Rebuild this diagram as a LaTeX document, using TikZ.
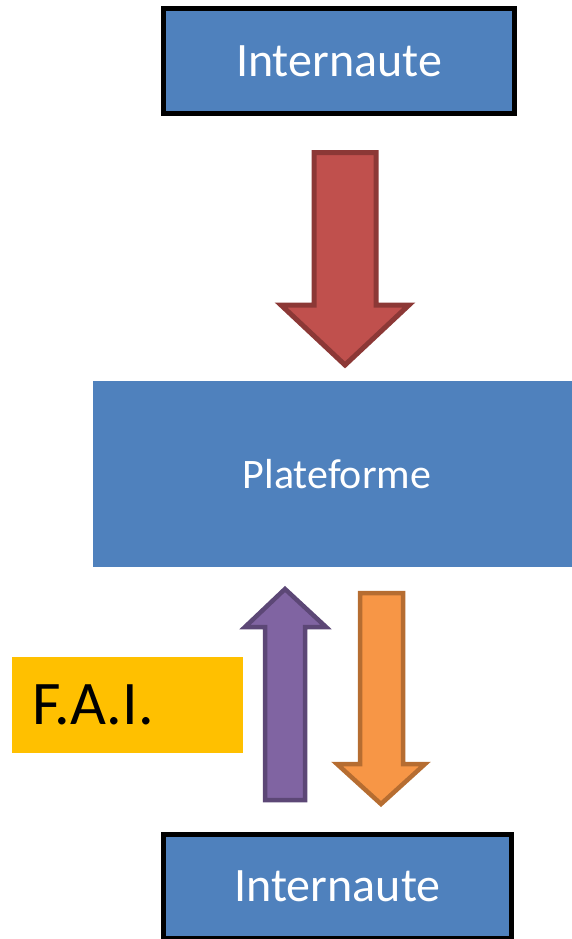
\documentclass[tikz,border=0pt]{standalone}
\usepackage{fontspec}
\setmainfont{Carlito}
\usetikzlibrary{positioning}
\definecolor{boxblue}{HTML}{4F81BD}
\definecolor{redfill}{HTML}{C0504D}
\definecolor{redline}{HTML}{8C3836}
\definecolor{purfill}{HTML}{8064A2}
\definecolor{purline}{HTML}{5C4776}
\definecolor{orgfill}{HTML}{F79646}
\definecolor{orgline}{HTML}{B66D31}
\definecolor{faiyellow}{HTML}{FFC000}

\begin{document}
\begin{tikzpicture} [x=1pt, y=-1pt,
    user/.style={draw=black, line width=5pt, fill=boxblue, text=white, inner sep=0pt,
      minimum width=351pt, minimum height=105pt, font=\fontsize{48}{58}\selectfont},
    blockarrow/.style={line width=5pt, line join=miter}]
  \useasboundingbox (0,0) rectangle (572,939);

  \draw (339,61) node[user] (int1) {Internaute};
  \draw (332.5,474) node[fill=boxblue, text=white, inner sep=0pt, minimum width=479pt,
    minimum height=186pt, font=\fontsize{42}{50}\selectfont] (plat) {\hspace*{9pt}Plateforme};
  \draw (127.5,705) node[fill=faiyellow, inner sep=0pt, minimum width=231pt, minimum height=96pt,
    text width=191pt, align=left, font=\fontsize{62}{72}\selectfont] (fai) {F.A.I.};
  \draw (337.5,886.5) node[user, minimum width=348pt, minimum height=104pt] (int2) {Internaute};

  % down arrow from the top user
  \draw [blockarrow, draw=redline, fill=redfill] (314,152.5) -- (376,152.5) -- (376,305)
    -- (409,305) -- (345,365) -- (281,305) -- (314,305) -- cycle;
  % up and down arrows under the platform
  \draw [blockarrow, line width=4.5pt, draw=purline, fill=purfill] (265,800) -- (305,800)
    -- (305,627) -- (326,627) -- (285,589) -- (245,627) -- (265,627) -- cycle;
  \draw [blockarrow, line width=4.5pt, draw=orgline, fill=orgfill] (360,593) -- (403,593)
    -- (403,764) -- (425,764) -- (381,804) -- (337,764) -- (360,764) -- cycle;
\end{tikzpicture}
\end{document}
